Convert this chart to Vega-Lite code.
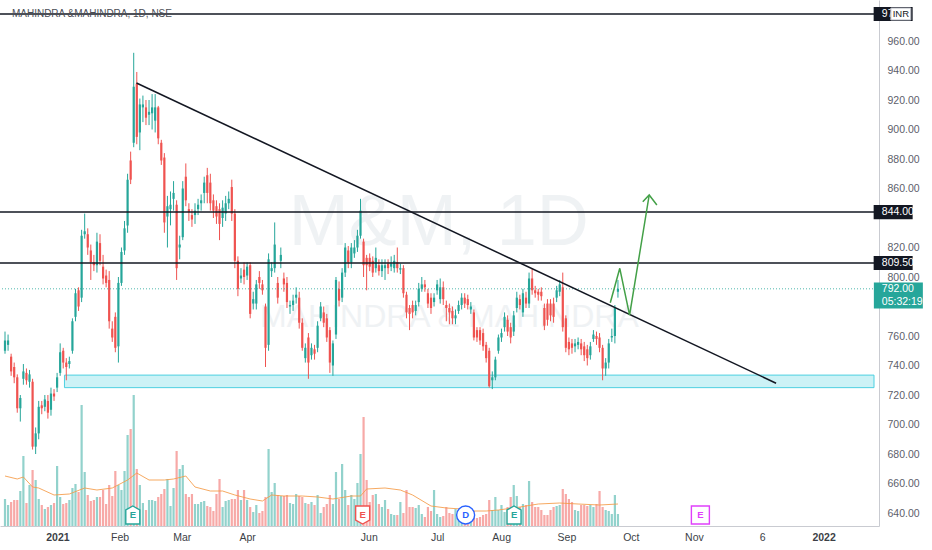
{
  "$schema": "https://vega.github.io/schema/vega-lite/v6.json",
  "width": 879,
  "height": 526,
  "autosize": {"type": "none"},
  "padding": {"left": 0, "top": 0, "right": 53, "bottom": 24},
  "background": "#ffffff",
  "config": {
    "view": {"stroke": null},
    "font": "Liberation Sans"
  },
  "datasets": {
    "candles": [
      {"i":0,"o":750,"h":763,"l":748,"c":757,"v":2.7},
      {"i":1,"o":754,"h":761,"l":750,"c":757,"v":2.1},
      {"i":2,"o":746,"h":748,"l":733,"c":736,"v":2.4},
      {"i":3,"o":739,"h":742,"l":728,"c":732,"v":2.6},
      {"i":4,"o":732,"h":734,"l":708,"c":711,"v":2.6},
      {"i":5,"o":711,"h":720,"l":702,"c":718,"v":3.5},
      {"i":6,"o":731,"h":741,"l":727,"c":736,"v":7.0},
      {"i":7,"o":735,"h":738,"l":727,"c":730,"v":2.3},
      {"i":8,"o":729,"h":737,"l":725,"c":734,"v":4.1},
      {"i":9,"o":729,"h":731,"l":683,"c":685,"v":5.6},
      {"i":10,"o":685,"h":698,"l":680,"c":694,"v":4.6},
      {"i":11,"o":694,"h":716,"l":690,"c":712,"v":2.7},
      {"i":12,"o":713,"h":716,"l":707,"c":711,"v":2.1},
      {"i":13,"o":712,"h":720,"l":709,"c":717,"v":1.7},
      {"i":14,"o":716,"h":720,"l":704,"c":708,"v":1.9},
      {"i":15,"o":710,"h":725,"l":706,"c":721,"v":2.1},
      {"i":16,"o":721,"h":724,"l":716,"c":719,"v":2.3},
      {"i":17,"o":725,"h":735,"l":722,"c":732,"v":6.0},
      {"i":18,"o":735,"h":755,"l":733,"c":749,"v":2.9},
      {"i":19,"o":750,"h":752,"l":738,"c":742,"v":2.2},
      {"i":20,"o":742,"h":745,"l":730,"c":739,"v":2.3},
      {"i":21,"o":741,"h":746,"l":738,"c":743,"v":2.6},
      {"i":22,"o":750,"h":772,"l":748,"c":770,"v":3.8},
      {"i":23,"o":773,"h":792,"l":770,"c":789,"v":4.2},
      {"i":24,"o":791,"h":793,"l":777,"c":780,"v":3.4},
      {"i":25,"o":786,"h":832,"l":783,"c":828,"v":12.1},
      {"i":26,"o":829,"h":843,"l":826,"c":831,"v":5.4},
      {"i":27,"o":829,"h":833,"l":815,"c":820,"v":3.1},
      {"i":28,"o":818,"h":822,"l":798,"c":810,"v":2.5},
      {"i":29,"o":810,"h":815,"l":804,"c":808,"v":2.6},
      {"i":30,"o":808,"h":830,"l":803,"c":824,"v":2.9},
      {"i":31,"o":823,"h":829,"l":808,"c":811,"v":2.9},
      {"i":32,"o":807,"h":815,"l":795,"c":799,"v":3.6},
      {"i":33,"o":801,"h":805,"l":793,"c":796,"v":2.2},
      {"i":34,"o":798,"h":804,"l":765,"c":770,"v":4.1},
      {"i":35,"o":765,"h":770,"l":756,"c":759,"v":3.0},
      {"i":36,"o":773,"h":776,"l":749,"c":752,"v":5.5},
      {"i":37,"o":753,"h":800,"l":742,"c":796,"v":4.1},
      {"i":38,"o":796,"h":820,"l":794,"c":817,"v":3.6},
      {"i":39,"o":818,"h":838,"l":815,"c":833,"v":5.5},
      {"i":40,"o":835,"h":870,"l":830,"c":866,"v":9.1},
      {"i":41,"o":879,"h":885,"l":863,"c":866,"v":9.7},
      {"i":42,"o":891,"h":952,"l":888,"c":929,"v":13.1},
      {"i":43,"o":931,"h":939,"l":890,"c":895,"v":5.7},
      {"i":44,"o":898,"h":921,"l":886,"c":917,"v":4.1},
      {"i":45,"o":915,"h":923,"l":905,"c":917,"v":2.3},
      {"i":46,"o":915,"h":920,"l":903,"c":908,"v":1.6},
      {"i":47,"o":910,"h":920,"l":903,"c":912,"v":2.6},
      {"i":48,"o":911,"h":924,"l":900,"c":915,"v":2.6},
      {"i":49,"o":906,"h":924,"l":898,"c":915,"v":2.5},
      {"i":50,"o":915,"h":916,"l":890,"c":894,"v":2.9},
      {"i":51,"o":891,"h":893,"l":876,"c":879,"v":3.2},
      {"i":52,"o":881,"h":884,"l":830,"c":837,"v":3.7},
      {"i":53,"o":841,"h":855,"l":820,"c":848,"v":4.7},
      {"i":54,"o":846,"h":858,"l":835,"c":849,"v":2.0},
      {"i":55,"o":853,"h":865,"l":845,"c":857,"v":3.8},
      {"i":56,"o":849,"h":852,"l":798,"c":806,"v":7.5},
      {"i":57,"o":820,"h":828,"l":812,"c":822,"v":5.7},
      {"i":58,"o":827,"h":865,"l":825,"c":860,"v":6.1},
      {"i":59,"o":868,"h":877,"l":848,"c":852,"v":3.2},
      {"i":60,"o":846,"h":850,"l":838,"c":844,"v":2.9},
      {"i":61,"o":842,"h":846,"l":834,"c":839,"v":3.2},
      {"i":62,"o":842,"h":850,"l":836,"c":845,"v":2.2},
      {"i":63,"o":846,"h":853,"l":842,"c":849,"v":2.2},
      {"i":64,"o":850,"h":856,"l":845,"c":852,"v":2.4},
      {"i":65,"o":857,"h":868,"l":850,"c":864,"v":2.5},
      {"i":66,"o":869,"h":874,"l":850,"c":857,"v":2.0},
      {"i":67,"o":864,"h":870,"l":845,"c":850,"v":1.9},
      {"i":68,"o":852,"h":856,"l":840,"c":845,"v":1.5},
      {"i":69,"o":848,"h":852,"l":836,"c":841,"v":3.2},
      {"i":70,"o":846,"h":850,"l":825,"c":836,"v":4.7},
      {"i":71,"o":840,"h":852,"l":834,"c":847,"v":1.9},
      {"i":72,"o":843,"h":855,"l":838,"c":850,"v":2.5},
      {"i":73,"o":850,"h":858,"l":846,"c":853,"v":2.6},
      {"i":74,"o":861,"h":866,"l":838,"c":843,"v":2.7},
      {"i":75,"o":843,"h":846,"l":806,"c":811,"v":2.7},
      {"i":76,"o":811,"h":814,"l":787,"c":792,"v":3.6},
      {"i":77,"o":799,"h":806,"l":796,"c":801,"v":2.6},
      {"i":78,"o":805,"h":810,"l":795,"c":800,"v":3.6},
      {"i":79,"o":801,"h":810,"l":798,"c":807,"v":2.6},
      {"i":80,"o":808,"h":810,"l":772,"c":775,"v":1.9},
      {"i":81,"o":782,"h":790,"l":778,"c":785,"v":1.4},
      {"i":82,"o":782,"h":798,"l":778,"c":795,"v":2.1},
      {"i":83,"o":800,"h":804,"l":792,"c":796,"v":1.3},
      {"i":84,"o":795,"h":798,"l":788,"c":791,"v":1.5},
      {"i":85,"o":780,"h":782,"l":739,"c":752,"v":2.9},
      {"i":86,"o":754,"h":816,"l":750,"c":812,"v":7.7},
      {"i":87,"o":804,"h":810,"l":800,"c":806,"v":3.4},
      {"i":88,"o":806,"h":837,"l":803,"c":822,"v":4.3},
      {"i":89,"o":796,"h":800,"l":782,"c":786,"v":3.1},
      {"i":90,"o":811,"h":820,"l":806,"c":815,"v":3.0},
      {"i":91,"o":799,"h":803,"l":790,"c":795,"v":3.0},
      {"i":92,"o":796,"h":800,"l":779,"c":783,"v":3.1},
      {"i":93,"o":780,"h":784,"l":775,"c":781,"v":2.3},
      {"i":94,"o":781,"h":788,"l":777,"c":784,"v":2.2},
      {"i":95,"o":786,"h":793,"l":782,"c":788,"v":3.2},
      {"i":96,"o":786,"h":790,"l":765,"c":769,"v":3.0},
      {"i":97,"o":769,"h":772,"l":750,"c":752,"v":2.9},
      {"i":98,"o":745,"h":755,"l":742,"c":752,"v":2.3},
      {"i":99,"o":759,"h":762,"l":731,"c":742,"v":2.2},
      {"i":100,"o":747,"h":755,"l":744,"c":752,"v":2.4},
      {"i":101,"o":751,"h":754,"l":744,"c":748,"v":2.1},
      {"i":102,"o":752,"h":770,"l":749,"c":767,"v":3.1},
      {"i":103,"o":772,"h":783,"l":770,"c":780,"v":1.3},
      {"i":104,"o":776,"h":780,"l":766,"c":769,"v":1.9},
      {"i":105,"o":772,"h":775,"l":756,"c":759,"v":2.2},
      {"i":106,"o":764,"h":766,"l":735,"c":742,"v":3.1},
      {"i":107,"o":740,"h":757,"l":733,"c":755,"v":2.2},
      {"i":108,"o":761,"h":800,"l":758,"c":798,"v":5.4},
      {"i":109,"o":792,"h":797,"l":780,"c":784,"v":2.7},
      {"i":110,"o":786,"h":806,"l":783,"c":803,"v":6.2},
      {"i":111,"o":803,"h":823,"l":800,"c":820,"v":3.6},
      {"i":112,"o":818,"h":821,"l":806,"c":810,"v":2.1},
      {"i":113,"o":810,"h":823,"l":806,"c":820,"v":3.1},
      {"i":114,"o":816,"h":825,"l":813,"c":820,"v":2.7},
      {"i":115,"o":820,"h":832,"l":817,"c":828,"v":4.3},
      {"i":116,"o":828,"h":853,"l":826,"c":845,"v":7.2},
      {"i":117,"o":824,"h":826,"l":800,"c":808,"v":10.9},
      {"i":118,"o":813,"h":815,"l":791,"c":808,"v":4.6},
      {"i":119,"o":813,"h":816,"l":804,"c":807,"v":2.4},
      {"i":120,"o":811,"h":814,"l":800,"c":803,"v":3.1},
      {"i":121,"o":806,"h":820,"l":803,"c":813,"v":3.2},
      {"i":122,"o":808,"h":812,"l":801,"c":804,"v":2.2},
      {"i":123,"o":804,"h":812,"l":800,"c":808,"v":1.9},
      {"i":124,"o":806,"h":812,"l":798,"c":808,"v":2.6},
      {"i":125,"o":809,"h":812,"l":802,"c":806,"v":1.7},
      {"i":126,"o":807,"h":814,"l":804,"c":809,"v":1.2},
      {"i":127,"o":806,"h":815,"l":803,"c":811,"v":1.1},
      {"i":128,"o":810,"h":820,"l":803,"c":806,"v":1.1},
      {"i":129,"o":805,"h":809,"l":802,"c":806,"v":2.4},
      {"i":130,"o":806,"h":808,"l":786,"c":789,"v":1.3},
      {"i":131,"o":788,"h":790,"l":772,"c":776,"v":3.6},
      {"i":132,"o":779,"h":781,"l":764,"c":775,"v":1.9},
      {"i":133,"o":781,"h":784,"l":772,"c":776,"v":1.9},
      {"i":134,"o":777,"h":784,"l":774,"c":781,"v":1.8},
      {"i":135,"o":783,"h":796,"l":780,"c":792,"v":2.1},
      {"i":136,"o":792,"h":800,"l":790,"c":795,"v":1.2},
      {"i":137,"o":795,"h":798,"l":790,"c":793,"v":0.9},
      {"i":138,"o":789,"h":792,"l":779,"c":782,"v":1.9},
      {"i":139,"o":786,"h":789,"l":775,"c":779,"v":1.5},
      {"i":140,"o":783,"h":789,"l":780,"c":786,"v":3.6},
      {"i":141,"o":791,"h":798,"l":788,"c":795,"v":1.2},
      {"i":142,"o":785,"h":799,"l":782,"c":793,"v":0.9},
      {"i":143,"o":793,"h":797,"l":781,"c":785,"v":1.0},
      {"i":144,"o":781,"h":784,"l":770,"c":779,"v":1.9},
      {"i":145,"o":779,"h":782,"l":768,"c":776,"v":1.3},
      {"i":146,"o":777,"h":780,"l":768,"c":772,"v":1.2},
      {"i":147,"o":772,"h":778,"l":768,"c":774,"v":1.7},
      {"i":148,"o":777,"h":784,"l":775,"c":781,"v":1.2},
      {"i":149,"o":781,"h":789,"l":778,"c":786,"v":1.2},
      {"i":150,"o":786,"h":789,"l":779,"c":782,"v":1.3},
      {"i":151,"o":785,"h":788,"l":778,"c":781,"v":1.2},
      {"i":152,"o":778,"h":783,"l":775,"c":780,"v":1.4},
      {"i":153,"o":776,"h":778,"l":757,"c":759,"v":1.5},
      {"i":154,"o":764,"h":766,"l":756,"c":759,"v":0.8},
      {"i":155,"o":764,"h":766,"l":754,"c":757,"v":0.9},
      {"i":156,"o":762,"h":765,"l":750,"c":753,"v":1.1},
      {"i":157,"o":754,"h":756,"l":742,"c":745,"v":1.2},
      {"i":158,"o":750,"h":752,"l":725,"c":726,"v":2.6},
      {"i":159,"o":730,"h":736,"l":724,"c":732,"v":1.6},
      {"i":160,"o":732,"h":746,"l":730,"c":744,"v":2.9},
      {"i":161,"o":750,"h":761,"l":748,"c":759,"v":1.6},
      {"i":162,"o":759,"h":765,"l":756,"c":762,"v":2.1},
      {"i":163,"o":766,"h":776,"l":763,"c":773,"v":1.4},
      {"i":164,"o":771,"h":774,"l":760,"c":763,"v":1.9},
      {"i":165,"o":766,"h":769,"l":755,"c":759,"v":2.9},
      {"i":166,"o":763,"h":777,"l":760,"c":774,"v":4.1},
      {"i":167,"o":779,"h":790,"l":776,"c":786,"v":3.0},
      {"i":168,"o":785,"h":788,"l":778,"c":781,"v":1.9},
      {"i":169,"o":776,"h":792,"l":773,"c":789,"v":2.2},
      {"i":170,"o":786,"h":790,"l":779,"c":782,"v":2.1},
      {"i":171,"o":782,"h":803,"l":779,"c":799,"v":4.5},
      {"i":172,"o":799,"h":806,"l":788,"c":791,"v":2.4},
      {"i":173,"o":791,"h":794,"l":786,"c":789,"v":1.9},
      {"i":174,"o":790,"h":792,"l":784,"c":788,"v":1.9},
      {"i":175,"o":790,"h":793,"l":784,"c":787,"v":1.6},
      {"i":176,"o":779,"h":782,"l":764,"c":767,"v":1.1},
      {"i":177,"o":782,"h":785,"l":767,"c":771,"v":1.1},
      {"i":178,"o":782,"h":785,"l":770,"c":774,"v":1.6},
      {"i":179,"o":782,"h":786,"l":769,"c":773,"v":1.9},
      {"i":180,"o":786,"h":794,"l":783,"c":791,"v":2.0},
      {"i":181,"o":790,"h":798,"l":787,"c":795,"v":2.1},
      {"i":182,"o":793,"h":803,"l":763,"c":766,"v":3.7},
      {"i":183,"o":772,"h":774,"l":749,"c":752,"v":3.2},
      {"i":184,"o":756,"h":759,"l":747,"c":751,"v":2.7},
      {"i":185,"o":755,"h":758,"l":748,"c":752,"v":2.4},
      {"i":186,"o":753,"h":758,"l":749,"c":755,"v":1.6},
      {"i":187,"o":754,"h":759,"l":751,"c":756,"v":1.5},
      {"i":188,"o":755,"h":758,"l":747,"c":751,"v":2.1},
      {"i":189,"o":753,"h":756,"l":743,"c":747,"v":2.1},
      {"i":190,"o":751,"h":754,"l":740,"c":745,"v":2.0},
      {"i":191,"o":747,"h":756,"l":744,"c":753,"v":2.1},
      {"i":192,"o":758,"h":764,"l":756,"c":761,"v":1.9},
      {"i":193,"o":760,"h":763,"l":754,"c":758,"v":2.2},
      {"i":194,"o":759,"h":762,"l":749,"c":752,"v":3.5},
      {"i":195,"o":752,"h":754,"l":730,"c":738,"v":1.9},
      {"i":196,"o":738,"h":745,"l":733,"c":742,"v":1.6},
      {"i":197,"o":742,"h":758,"l":738,"c":755,"v":1.5},
      {"i":198,"o":759,"h":765,"l":756,"c":760,"v":1.2},
      {"i":199,"o":760,"h":781,"l":755,"c":779,"v":3.1},
      {"i":200,"o":790,"h":798,"l":786,"c":792,"v":1.2}
    ],
    "volma": [
      {"i":0,"v":5.0},{"i":4,"v":4.7},{"i":6,"v":4.9},{"i":9,"v":3.9},{"i":11,"v":3.8},
      {"i":16,"v":3.1},{"i":21,"v":3.2},{"i":26,"v":3.8},{"i":30,"v":3.6},{"i":35,"v":3.8},
      {"i":40,"v":4.6},{"i":43,"v":5.3},{"i":47,"v":4.6},{"i":52,"v":4.6},{"i":55,"v":4.7},
      {"i":59,"v":5.0},{"i":62,"v":3.9},{"i":67,"v":3.5},{"i":71,"v":3.5},{"i":75,"v":3.1},
      {"i":80,"v":2.7},{"i":84,"v":2.5},{"i":87,"v":3.1},{"i":91,"v":3.0},{"i":97,"v":3.0},
      {"i":102,"v":2.9},{"i":107,"v":2.7},{"i":113,"v":3.0},{"i":116,"v":3.0},{"i":118,"v":3.7},
      {"i":124,"v":3.8},{"i":129,"v":3.6},{"i":133,"v":3.1},{"i":139,"v":2.0},{"i":144,"v":1.8},
      {"i":149,"v":1.7},{"i":151,"v":1.5},{"i":157,"v":1.5},{"i":161,"v":1.6},{"i":168,"v":1.9},
      {"i":174,"v":2.2},{"i":181,"v":2.3},{"i":187,"v":2.2},{"i":194,"v":2.1},{"i":200,"v":2.2}
    ],
    "events": [
      {"i":41.7,"kind":"earn_up","label":"E"},
      {"i":116.7,"kind":"earn_down","label":"E"},
      {"i":150.3,"kind":"div","label":"D"},
      {"i":166.1,"kind":"earn_up","label":"E"},
      {"i":226.9,"kind":"earn_next","label":"E"}
    ],
    "levels": [{"p":978.3},{"p":844},{"p":809.5}],
    "zone": [{"i0":19.4,"i1":283.55,"lo":725,"hi":733.5}],
    "trend": [{"i":42.9,"p":931.5},{"i":251.6,"p":728}],
    "arrow": [
      {"seg":"a","k":0,"i":197.5,"p":782.6},
      {"seg":"a","k":1,"i":200.6,"p":805.9},
      {"seg":"a","k":2,"i":203.8,"p":774.2},
      {"seg":"a","k":3,"i":210.2,"p":855.6},
      {"seg":"b","k":0,"i":208.1,"p":851.0},
      {"seg":"b","k":1,"i":210.2,"p":855.6},
      {"seg":"b","k":2,"i":212.7,"p":848.8}
    ],
    "tags": [
      {"p":978.3,"label":"97","kind":"line"},
      {"p":844,"label":"844.00","kind":"line"},
      {"p":809.5,"label":"809.50","kind":"line"},
      {"p":792,"label":"792.00","kind":"last","sub":"05:32:19"}
    ],
    "texts": [
      {"t":"M&M, 1D","kind":"wm1"},
      {"t":"MAHINDRA & MAHINDRA","kind":"wm2"},
      {"t":"MAHINDRA &MAHINDRA, 1D, NSE","kind":"title"},
      {"t":"INR","kind":"cur"}
    ]
  },
  "layer": [
    {
      "data": {"name": "candles"},
      "mark": {"type": "bar", "width": 2.2, "opacity": 0.5},
      "encoding": {
        "x": {"field": "i", "type": "quantitative", "scale": {"domain": [0, 283.55], "nice": false, "zero": false}, "axis": null},
        "y": {"field": "v", "type": "quantitative",
          "scale": {"domain": [0, 52.6], "nice": false, "zero": true}, "axis": null},
        "color": {"condition": {"test": "datum.c >= datum.o", "value": "#26a69a"}, "value": "#ef5350"}
      }
    },
    {
      "data": {"name": "volma"},
      "mark": {"type": "line", "color": "#f59a45", "strokeWidth": 1, "opacity": 0.85},
      "encoding": {
        "x": {"field": "i", "type": "quantitative", "scale": {"domain": [0, 283.55], "nice": false, "zero": false}, "axis": null},
        "y": {"field": "v", "type": "quantitative", "scale": {"domain": [0, 52.6], "nice": false, "zero": true}, "axis": null}
      }
    },
    {
      "data": {"name": "events"},
      "mark": {"type": "point", "filled": true, "fill": "#ffffff", "strokeWidth": 1.4, "opacity": 1},
      "encoding": {
        "x": {"field": "i", "type": "quantitative", "scale": {"domain": [0, 283.55], "nice": false, "zero": false}, "axis": null},
        "y": {"datum": 1.1, "type": "quantitative", "scale": {"domain": [0, 52.6], "nice": false, "zero": true}, "axis": null},
        "shape": {"field": "kind", "type": "nominal", "legend": null,
          "scale": {"domain": ["earn_up", "earn_down", "div", "earn_next"],
            "range": ["M0,-1L0.78,-0.56L0.78,1L-0.78,1L-0.78,-0.56Z", "M0,1L0.78,0.56L0.78,-1L-0.78,-1L-0.78,0.56Z", "circle", "square"]}},
        "stroke": {"field": "kind", "type": "nominal", "legend": null,
          "scale": {"domain": ["earn_up", "earn_down", "div", "earn_next"], "range": ["#26a69a", "#ef5350", "#2962ff", "#e040fb"]}},
        "size": {"field": "kind", "type": "nominal", "legend": null,
          "scale": {"domain": ["earn_up", "earn_down", "div", "earn_next"], "range": [324, 324, 200, 196]}}
      }
    },
    {
      "data": {"name": "events"},
      "mark": {"type": "text", "fontSize": 9.5, "fontWeight": "bold", "baseline": "middle", "align": "center"},
      "encoding": {
        "x": {"field": "i", "type": "quantitative", "scale": {"domain": [0, 283.55], "nice": false, "zero": false}, "axis": null},
        "y": {"datum": 1.1, "type": "quantitative", "scale": {"domain": [0, 52.6], "nice": false, "zero": true}, "axis": null},
        "text": {"field": "label"},
        "color": {"field": "kind", "type": "nominal", "legend": null,
          "scale": {"domain": ["earn_up", "earn_down", "div", "earn_next"], "range": ["#26a69a", "#ef5350", "#2962ff", "#e040fb"]}}
      }
    },
    {
      "data": {"name": "texts"},
      "transform": [{"filter": "datum.kind == 'wm1'"}],
      "mark": {"type": "text", "fontSize": 72, "color": "#e6eaee", "opacity": 0.6, "align": "center", "baseline": "middle"},
      "encoding": {
        "x": {"datum": 141.5, "type": "quantitative", "scale": {"domain": [0, 283.55], "nice": false, "zero": false}, "axis": null},
        "y": {"datum": 836.9, "type": "quantitative", "scale": {"domain": [631.2, 987.8], "nice": false, "zero": false}, "axis": null},
        "text": {"field": "t"}
      }
    },
    {
      "data": {"name": "texts"},
      "transform": [{"filter": "datum.kind == 'wm2'"}],
      "mark": {"type": "text", "fontSize": 32, "color": "#e6eaee", "opacity": 0.6, "align": "center", "baseline": "middle"},
      "encoding": {
        "x": {"datum": 145, "type": "quantitative", "scale": {"domain": [0, 283.55], "nice": false, "zero": false}, "axis": null},
        "y": {"datum": 773, "type": "quantitative", "scale": {"domain": [631.2, 987.8], "nice": false, "zero": false}, "axis": null},
        "text": {"field": "t"}
      }
    },
    {
      "data": {"name": "zone"},
      "mark": {"type": "rect", "fill": "#00bcd4", "fillOpacity": 0.2, "stroke": "#4dd0e1", "strokeWidth": 1},
      "encoding": {
        "x": {"field": "i0", "type": "quantitative", "scale": {"domain": [0, 283.55], "nice": false, "zero": false}, "axis": null},
        "x2": {"field": "i1"},
        "y": {"field": "lo", "type": "quantitative", "scale": {"domain": [631.2, 987.8], "nice": false, "zero": false}, "axis": null},
        "y2": {"field": "hi"}
      }
    },
    {
      "data": {"name": "candles"},
      "mark": {"type": "rule", "strokeWidth": 1},
      "encoding": {
        "x": {"field": "i", "type": "quantitative", "scale": {"domain": [0, 283.55], "nice": false, "zero": false},
          "axis": {
            "orient": "bottom", "title": null, "grid": false, "ticks": false,
            "values": [37.4, 57.7, 79, 118.7, 141, 161.9, 183.2, 204.2, 224.8, 247.1],
            "labelExpr": "datum.value == 37.4 ? 'Feb' : datum.value == 57.7 ? 'Mar' : datum.value == 79 ? 'Apr' : datum.value == 118.7 ? 'Jun' : datum.value == 141 ? 'Jul' : datum.value == 161.9 ? 'Aug' : datum.value == 183.2 ? 'Sep' : datum.value == 204.2 ? 'Oct' : datum.value == 224.8 ? 'Nov' : '6'",
            "labelFont": "Liberation Sans", "labelFontSize": 10.5, "labelColor": "#3c3f47",
            "labelPadding": 6, "labelFlush": false, "labelOverlap": false,
            "domainColor": "#c9cbd1"
          }
        },
        "y": {"field": "l", "type": "quantitative", "scale": {"domain": [631.2, 987.8], "nice": false, "zero": false},
          "axis": {"orient": "right", "title": null, "grid": false, "ticks": false,
            "values": [640, 660, 680, 700, 720, 740, 760, 800, 820, 860, 880, 900, 920, 940, 960],
            "format": ".2f", "labelFont": "Liberation Sans", "labelFontSize": 10.5, "labelColor": "#5d606b",
            "labelPadding": 8, "domainColor": "#c9cbd1"}},
        "y2": {"field": "h"},
        "color": {"condition": {"test": "datum.c >= datum.o", "value": "#26a69a"}, "value": "#ef5350"}
      }
    },
    {
      "data": {"name": "candles"},
      "mark": {"type": "bar", "width": 2.2},
      "encoding": {
        "x": {"field": "i", "type": "quantitative", "scale": {"domain": [0, 283.55], "nice": false, "zero": false},
          "axis": {
            "orient": "bottom", "title": null, "grid": false, "ticks": false, "domain": false,
            "values": [17.1, 267.1],
            "labelExpr": "datum.value < 100 ? '2021' : '2022'",
            "labelFont": "Liberation Sans", "labelFontSize": 10.5, "labelFontWeight": "bold", "labelColor": "#3c3f47",
            "labelPadding": 6, "labelFlush": false, "labelOverlap": false
          }
        },
        "y": {"field": "o", "type": "quantitative", "scale": {"domain": [631.2, 987.8], "nice": false, "zero": false}, "axis": null},
        "y2": {"field": "c"},
        "color": {"condition": {"test": "datum.c >= datum.o", "value": "#26a69a"}, "value": "#ef5350"}
      }
    },
    {
      "data": {"name": "levels"},
      "mark": {"type": "rule", "color": "#131722", "strokeWidth": 1.5},
      "encoding": {
        "y": {"field": "p", "type": "quantitative", "scale": {"domain": [631.2, 987.8], "nice": false, "zero": false}, "axis": null}
      }
    },
    {
      "data": {"name": "tags"},
      "transform": [{"filter": "datum.kind == 'last'"}],
      "mark": {"type": "rule", "color": "#26a69a", "strokeWidth": 1, "strokeDash": [1, 2], "opacity": 0.8},
      "encoding": {
        "y": {"field": "p", "type": "quantitative", "scale": {"domain": [631.2, 987.8], "nice": false, "zero": false}, "axis": null}
      }
    },
    {
      "data": {"name": "trend"},
      "mark": {"type": "line", "color": "#131722", "strokeWidth": 1.5},
      "encoding": {
        "x": {"field": "i", "type": "quantitative", "scale": {"domain": [0, 283.55], "nice": false, "zero": false}, "axis": null},
        "y": {"field": "p", "type": "quantitative", "scale": {"domain": [631.2, 987.8], "nice": false, "zero": false}, "axis": null}
      }
    },
    {
      "data": {"name": "arrow"},
      "mark": {"type": "line", "color": "#43a047", "strokeWidth": 1.5},
      "encoding": {
        "x": {"field": "i", "type": "quantitative", "scale": {"domain": [0, 283.55], "nice": false, "zero": false}, "axis": null},
        "y": {"field": "p", "type": "quantitative", "scale": {"domain": [631.2, 987.8], "nice": false, "zero": false}, "axis": null},
        "detail": {"field": "seg"},
        "order": {"field": "k", "type": "quantitative"}
      }
    },
    {
      "data": {"name": "texts"},
      "transform": [{"filter": "datum.kind == 'title'"}],
      "mark": {"type": "text", "fontSize": 10, "color": "#4a4d55", "align": "left", "baseline": "middle"},
      "encoding": {
        "x": {"datum": 2.26, "type": "quantitative", "scale": {"domain": [0, 283.55], "nice": false, "zero": false}, "axis": null},
        "y": {"datum": 978.3, "type": "quantitative", "scale": {"domain": [631.2, 987.8], "nice": false, "zero": false}, "axis": null},
        "text": {"field": "t"}
      }
    },
    {
      "data": {"name": "tags"},
      "transform": [{"filter": "datum.kind == 'line'"}],
      "mark": {"type": "point", "filled": true, "color": "#131722", "opacity": 1, "size": 1521,
        "shape": "M-1,-0.36L1,-0.36L1,0.36L-1,0.36Z"},
      "encoding": {
        "x": {"datum": 289.8, "type": "quantitative", "scale": {"domain": [0, 283.55], "nice": false, "zero": false}, "axis": null},
        "y": {"field": "p", "type": "quantitative", "scale": {"domain": [631.2, 987.8], "nice": false, "zero": false}, "axis": null}
      }
    },
    {
      "data": {"name": "tags"},
      "transform": [{"filter": "datum.kind == 'last'"}],
      "mark": {"type": "point", "filled": true, "color": "#26a69a", "opacity": 1, "size": 2401, "yOffset": 6.7,
        "shape": "M-1,-0.53L1,-0.53L1,0.53L-1,0.53Z"},
      "encoding": {
        "x": {"datum": 291.5, "type": "quantitative", "scale": {"domain": [0, 283.55], "nice": false, "zero": false}, "axis": null},
        "y": {"field": "p", "type": "quantitative", "scale": {"domain": [631.2, 987.8], "nice": false, "zero": false}, "axis": null}
      }
    },
    {
      "data": {"name": "tags"},
      "mark": {"type": "text", "fontSize": 10.5, "color": "#ffffff", "align": "left", "baseline": "middle"},
      "encoding": {
        "x": {"datum": 286.1, "type": "quantitative", "scale": {"domain": [0, 283.55], "nice": false, "zero": false}, "axis": null},
        "y": {"field": "p", "type": "quantitative", "scale": {"domain": [631.2, 987.8], "nice": false, "zero": false}, "axis": null},
        "text": {"field": "label"}
      }
    },
    {
      "data": {"name": "tags"},
      "transform": [{"filter": "datum.kind == 'last'"}],
      "mark": {"type": "text", "fontSize": 10.5, "color": "#ffffff", "align": "left", "baseline": "middle", "dy": 13},
      "encoding": {
        "x": {"datum": 286.1, "type": "quantitative", "scale": {"domain": [0, 283.55], "nice": false, "zero": false}, "axis": null},
        "y": {"field": "p", "type": "quantitative", "scale": {"domain": [631.2, 987.8], "nice": false, "zero": false}, "axis": null},
        "text": {"field": "sub"}
      }
    },
    {
      "data": {"name": "texts"},
      "transform": [{"filter": "datum.kind == 'cur'"}],
      "mark": {"type": "point", "filled": true, "fill": "#ffffff", "stroke": "#b2b5be", "strokeWidth": 1, "opacity": 1, "size": 400,
        "shape": "M-1,-0.6L1,-0.6L1,0.6L-1,0.6Z"},
      "encoding": {
        "x": {"datum": 292.3, "type": "quantitative", "scale": {"domain": [0, 283.55], "nice": false, "zero": false}, "axis": null},
        "y": {"datum": 978.3, "type": "quantitative", "scale": {"domain": [631.2, 987.8], "nice": false, "zero": false}, "axis": null}
      }
    },
    {
      "data": {"name": "texts"},
      "transform": [{"filter": "datum.kind == 'cur'"}],
      "mark": {"type": "text", "fontSize": 9.5, "color": "#131722", "align": "center", "baseline": "middle"},
      "encoding": {
        "x": {"datum": 292.3, "type": "quantitative", "scale": {"domain": [0, 283.55], "nice": false, "zero": false}, "axis": null},
        "y": {"datum": 978.3, "type": "quantitative", "scale": {"domain": [631.2, 987.8], "nice": false, "zero": false}, "axis": null},
        "text": {"field": "t"}
      }
    }
  ],
  "resolve": {"scale": {"y": "independent"}, "axis": {"x": "independent"}}
}
